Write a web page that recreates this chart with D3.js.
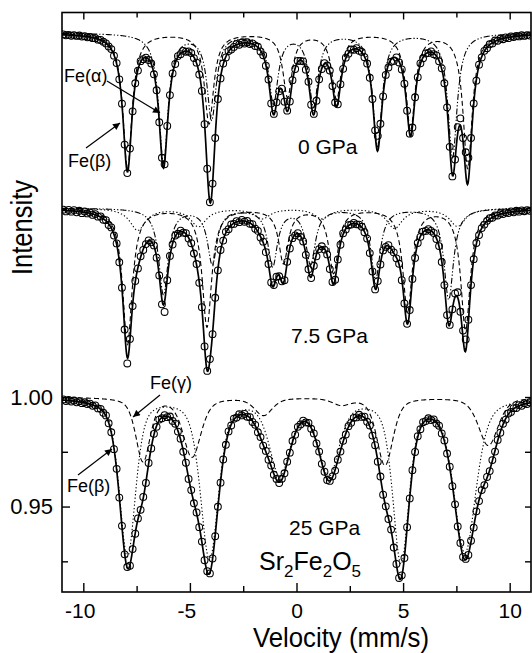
<!DOCTYPE html>
<html>
<head>
<meta charset="utf-8">
<script src="https://cdn.jsdelivr.net/npm/d3@7"></script>
<style>
  body { margin: 0; background: #fff; }
  text { font-family: "Liberation Sans", Arial, sans-serif; fill: #000; }
</style>
</head>
<body>
<div id="chart"></div>
<script>
// axis ticks
var velocityMajor = [-10, -5, 0, 5, 10];
var velocityMinor = [-7.5, -2.5, 2.5, 7.5];
var intensityMajor = [0.95, 1.00];
var intensityMinor = [0.925, 0.975];

// pressures and vertical shift of each spectrum
var pressures = ["0 GPa", "7.5 GPa", "25 GPa"];
var offsets = [0.1662, 0.0863, 0];

// channel velocities (mm/s)
var channels = d3.range(176).map(function (i) { return -10.9375 + 0.125 * i; });

// measured relative transmission, one value per channel
var obs0 = [0.9993, 0.9989, 0.9991, 0.9987, 0.9990, 0.9986, 0.9988, 0.9983, 0.9985, 0.9980, 0.9981, 0.9976, 0.9976, 0.9969, 0.9968, 0.9960,
 0.9952, 0.9938, 0.9926, 0.9896, 0.9862, 0.9788, 0.9677, 0.9490, 0.9360, 0.9472, 0.9642, 0.9770, 0.9828, 0.9871, 0.9880, 0.9887,
 0.9876, 0.9860, 0.9811, 0.9738, 0.9592, 0.9430, 0.9400, 0.9575, 0.9716, 0.9815, 0.9858, 0.9894, 0.9903, 0.9918, 0.9914, 0.9915,
 0.9908, 0.9885, 0.9864, 0.9810, 0.9735, 0.9583, 0.9380, 0.9227, 0.9312, 0.9520, 0.9698, 0.9792, 0.9860, 0.9888, 0.9917, 0.9924,
 0.9936, 0.9949, 0.9946, 0.9956, 0.9951, 0.9957, 0.9949, 0.9952, 0.9940, 0.9937, 0.9915, 0.9898, 0.9850, 0.9787, 0.9678, 0.9630,
 0.9683, 0.9733, 0.9745, 0.9686, 0.9645, 0.9687, 0.9784, 0.9835, 0.9872, 0.9872, 0.9870, 0.9832, 0.9777, 0.9672, 0.9630, 0.9690,
 0.9788, 0.9835, 0.9862, 0.9851, 0.9828, 0.9757, 0.9682, 0.9674, 0.9766, 0.9836, 0.9887, 0.9905, 0.9924, 0.9923, 0.9930, 0.9918,
 0.9913, 0.9889, 0.9860, 0.9795, 0.9698, 0.9555, 0.9530, 0.9585, 0.9710, 0.9808, 0.9842, 0.9868, 0.9872, 0.9888, 0.9865, 0.9833,
 0.9768, 0.9645, 0.9540, 0.9568, 0.9706, 0.9798, 0.9861, 0.9884, 0.9906, 0.9908, 0.9915, 0.9903, 0.9897, 0.9870, 0.9838, 0.9770,
 0.9660, 0.9480, 0.9345, 0.9422, 0.9570, 0.9610, 0.9520, 0.9455, 0.9430, 0.9520, 0.9678, 0.9782, 0.9855, 0.9888, 0.9918, 0.9930,
 0.9948, 0.9952, 0.9965, 0.9964, 0.9974, 0.9971, 0.9979, 0.9976, 0.9984, 0.9981, 0.9986, 0.9984, 0.9989, 0.9986, 0.9990, 0.9988];
var obs7 = [0.9992, 0.9984, 0.9991, 0.9983, 0.9990, 0.9980, 0.9987, 0.9976, 0.9984, 0.9975, 0.9979, 0.9968, 0.9972, 0.9960, 0.9961, 0.9946,
 0.9944, 0.9922, 0.9911, 0.9874, 0.9838, 0.9752, 0.9636, 0.9445, 0.9290, 0.9402, 0.9552, 0.9667, 0.9724, 0.9779, 0.9808, 0.9835,
 0.9852, 0.9843, 0.9829, 0.9773, 0.9692, 0.9560, 0.9525, 0.9670, 0.9781, 0.9833, 0.9874, 0.9882, 0.9896, 0.9887, 0.9885, 0.9860,
 0.9839, 0.9792, 0.9744, 0.9658, 0.9547, 0.9368, 0.9256, 0.9310, 0.9424, 0.9590, 0.9715, 0.9808, 0.9851, 0.9891, 0.9903, 0.9925,
 0.9927, 0.9940, 0.9935, 0.9945, 0.9937, 0.9941, 0.9928, 0.9926, 0.9905, 0.9895, 0.9865, 0.9846, 0.9798, 0.9744, 0.9660, 0.9648,
 0.9686, 0.9688, 0.9665, 0.9670, 0.9754, 0.9815, 0.9862, 0.9875, 0.9885, 0.9868, 0.9847, 0.9786, 0.9720, 0.9680, 0.9736, 0.9779,
 0.9812, 0.9825, 0.9810, 0.9788, 0.9721, 0.9662, 0.9672, 0.9765, 0.9832, 0.9884, 0.9902, 0.9921, 0.9924, 0.9932, 0.9925, 0.9924,
 0.9914, 0.9889, 0.9860, 0.9794, 0.9710, 0.9628, 0.9666, 0.9742, 0.9806, 0.9822, 0.9830, 0.9810, 0.9797, 0.9770, 0.9745, 0.9670,
 0.9564, 0.9471, 0.9534, 0.9676, 0.9772, 0.9840, 0.9868, 0.9892, 0.9895, 0.9903, 0.9895, 0.9886, 0.9858, 0.9826, 0.9753, 0.9648,
 0.9511, 0.9466, 0.9537, 0.9610, 0.9615, 0.9526, 0.9440, 0.9400, 0.9490, 0.9648, 0.9766, 0.9840, 0.9876, 0.9908, 0.9924, 0.9941,
 0.9953, 0.9955, 0.9966, 0.9965, 0.9975, 0.9972, 0.9980, 0.9977, 0.9984, 0.9980, 0.9987, 0.9983, 0.9989, 0.9985, 0.9990, 0.9987];
var obs25 = [0.9989, 0.9982, 0.9987, 0.9979, 0.9984, 0.9976, 0.9981, 0.9972, 0.9976, 0.9968, 0.9970, 0.9960, 0.9962, 0.9948,
 0.9946, 0.9928, 0.9916, 0.9880, 0.9839, 0.9762, 0.9672, 0.9541, 0.9412, 0.9282, 0.9224, 0.9230, 0.9306, 0.9376,
 0.9446, 0.9485, 0.9544, 0.9608, 0.9699, 0.9765, 0.9832, 0.9864, 0.9897, 0.9903, 0.9917, 0.9908, 0.9911, 0.9891,
 0.9878, 0.9842, 0.9810, 0.9750, 0.9700, 0.9626, 0.9575, 0.9515, 0.9473, 0.9406, 0.9340, 0.9255, 0.9205, 0.9195,
 0.9263, 0.9365, 0.9499, 0.9609, 0.9715, 0.9782, 0.9843, 0.9870, 0.9901, 0.9906, 0.9922, 0.9916, 0.9923, 0.9910,
 0.9908, 0.9886, 0.9873, 0.9839, 0.9817, 0.9778, 0.9754, 0.9714, 0.9687, 0.9645, 0.9626, 0.9607, 0.9627, 0.9652,
 0.9705, 0.9746, 0.9799, 0.9828, 0.9864, 0.9875, 0.9892, 0.9884, 0.9882, 0.9855, 0.9834, 0.9788, 0.9751, 0.9695,
 0.9659, 0.9621, 0.9617, 0.9638, 0.9664, 0.9714, 0.9751, 0.9800, 0.9829, 0.9867, 0.9882, 0.9905, 0.9907, 0.9919,
 0.9909, 0.9910, 0.9887, 0.9870, 0.9824, 0.9780, 0.9705, 0.9637, 0.9554, 0.9501, 0.9443, 0.9395, 0.9313, 0.9238,
 0.9174, 0.9186, 0.9265, 0.9406, 0.9537, 0.9666, 0.9749, 0.9821, 0.9853, 0.9885, 0.9890, 0.9903, 0.9895, 0.9898,
 0.9879, 0.9869, 0.9834, 0.9802, 0.9742, 0.9682, 0.9593, 0.9510, 0.9409, 0.9334, 0.9270, 0.9261, 0.9279, 0.9344,
 0.9404, 0.9478, 0.9525, 0.9575, 0.9598, 0.9635, 0.9662, 0.9712, 0.9751, 0.9804, 0.9837, 0.9878, 0.9897, 0.9925,
 0.9932, 0.9949, 0.9950, 0.9963, 0.9960, 0.9971, 0.9968, 0.9976];

// fitted sextets: line position (mm/s), depth, half width, lorentzian fraction
var beta0Pos = [-7.93, -4.10, -0.42, 1.88, 5.35, 8.03];
var beta0Depth = [0.0616, 0.0411, 0.0288, 0.0297, 0.0438, 0.0616];
var alpha0Pos = [-6.24, -3.98, -1.08, 0.80, 3.80, 7.32];
var alpha0Depth = [0.0589, 0.0388, 0.0315, 0.0329, 0.0511, 0.0566];
var width0 = [0.26, 0.26, 0.26, 0.26, 0.26, 0.26];

var beta7Pos = [-7.93, -4.20, -0.61, 1.74, 5.21, 7.93];
var beta7Depth = [0.0621, 0.0539, 0.0247, 0.0292, 0.0466, 0.0553];
var alpha7Pos = [-6.24, -3.95, -1.12, 0.66, 3.71, 7.14];
var alpha7Depth = [0.0393, 0.0251, 0.0260, 0.0251, 0.0320, 0.0416];
var gamma7Pos = [-7.45, -4.60, -1.60, 1.20, 4.60, 7.55];
var gamma7Depth = [0.0100, 0.0082, 0.0046, 0.0046, 0.0091, 0.0082];
var width7 = [0.27, 0.27, 0.27, 0.27, 0.27, 0.27];
var width7g = [0.45, 0.45, 0.45, 0.45, 0.45, 0.45];

var beta25Pos = [-7.93, -4.08, -0.78, 1.52, 4.90, 7.90];
var beta25Depth = [0.072, 0.073, 0.034, 0.034, 0.074, 0.070];
var beta25Width = [0.45, 0.50, 0.58, 0.58, 0.45, 0.62];
var gamma25Pos = [-7.20, -4.90, -1.55, 2.10, 4.15, 9.00];
var gamma25Depth = [0.029, 0.027, 0.008, 0.003, 0.031, 0.022];
var gamma25Width = [0.40, 0.50, 0.50, 0.50, 0.45, 0.55];

var dashStyles = { dash: "5,3", dashdot: "6,2,1.3,2,1.3,2", dot: "1.3,2.2" };

var spectra = [
    { offset: offsets[0], obs: obs0, sites: [
        { pos: beta0Pos, depth: beta0Depth, hw: width0, eta: 1, dash: dashStyles.dash },
        { pos: alpha0Pos, depth: alpha0Depth, hw: width0, eta: 1, dash: dashStyles.dashdot }] },
    { offset: offsets[1], obs: obs7, sites: [
        { pos: beta7Pos, depth: beta7Depth, hw: width7, eta: 1, dash: dashStyles.dash },
        { pos: alpha7Pos, depth: alpha7Depth, hw: width7, eta: 1, dash: dashStyles.dashdot },
        { pos: gamma7Pos, depth: gamma7Depth, hw: width7g, eta: 1, dash: dashStyles.dot }] },
    { offset: offsets[2], obs: obs25, sites: [
        { pos: beta25Pos, depth: beta25Depth, hw: beta25Width, eta: 0.5, dash: dashStyles.dot },
        { pos: gamma25Pos, depth: gamma25Depth, hw: gamma25Width, eta: 0.5, dash: dashStyles.dash }] }
];

// absorption of one site at velocity v (pseudo-Voigt lines)
function siteDip(site, v) {
    var s = 0;
    for (var i = 0; i < site.pos.length; i++) {
        var u = (v - site.pos[i]) / site.hw[i];
        s += site.depth[i] * (site.eta / (1 + u * u) + (1 - site.eta) * Math.exp(-Math.LN2 * u * u));
    }
    return s;
}
function fitDip(sp, v) {
    return d3.sum(sp.sites, function (site) { return siteDip(site, v); });
}

var width = 532, height = 653;
var margin = { left: 62, top: 12.5, right: 1, bottom: 61 };

var x = d3.scaleLinear().domain([-11, 11]).range([margin.left, width - margin.right]);
var y = d3.scaleLinear().domain([0.911, 1.1755]).range([height - margin.bottom, margin.top]);

var svg = d3.select("#chart").append("svg")
    .attr("width", width)
    .attr("height", height);

svg.append("clipPath").attr("id", "plotClip")
    .append("rect")
    .attr("x", x(-11)).attr("y", y(1.1755))
    .attr("width", x(11) - x(-11)).attr("height", y(0.911) - y(1.1755));

var plot = svg.append("g").attr("clip-path", "url(#plotClip)");

var fine = d3.range(-11, 11.0001, 0.02);

spectra.forEach(function (sp) {
    // sub-spectra
    sp.sites.forEach(function (site) {
        plot.append("path")
            .datum(fine)
            .attr("fill", "none")
            .attr("stroke", "#000")
            .attr("stroke-width", 1.1)
            .attr("stroke-dasharray", site.dash)
            .attr("d", d3.line()
                .x(function (v) { return x(v); })
                .y(function (v) { return y(1 + sp.offset - siteDip(site, v)); }));
    });
    // measured points
    plot.selectAll(null)
        .data(sp.obs)
        .enter().append("circle")
        .attr("cx", function (d, i) { return x(channels[i]); })
        .attr("cy", function (d) { return y(d + sp.offset); })
        .attr("r", 3.4)
        .attr("fill", "none")
        .attr("stroke", "#000")
        .attr("stroke-width", 1.05);
    // total fit
    plot.append("path")
        .datum(fine)
        .attr("fill", "none")
        .attr("stroke", "#000")
        .attr("stroke-width", 1.7)
        .attr("d", d3.line()
            .x(function (v) { return x(v); })
            .y(function (v) { return y(1 + sp.offset - fitDip(sp, v)); }));
});

// frame
svg.append("rect")
    .attr("x", x(-11)).attr("y", y(1.1755))
    .attr("width", x(11) - x(-11)).attr("height", y(0.911) - y(1.1755))
    .attr("fill", "none").attr("stroke", "#000").attr("stroke-width", 1.6);

// axes with inward ticks
function styleAxis(g) {
    g.select(".domain").remove();
    g.selectAll(".tick line").attr("stroke", "#000").attr("stroke-width", 1.4);
}

svg.append("g")
    .attr("transform", "translate(0," + y(0.911) + ")")
    .call(d3.axisBottom(x).tickValues(velocityMajor).tickSize(-9).tickPadding(11)
        .tickFormat(function (d) { return String(d); }))
    .call(styleAxis)
    .call(function (g) {
        g.selectAll("text")
            .style("font-size", "21px")
            .attr("fill", "#000")
            .attr("dx", function (d) { return d < 0 ? "-0.17em" : 0; });
    });
svg.append("g")
    .attr("transform", "translate(0," + y(0.911) + ")")
    .call(d3.axisBottom(x).tickValues(velocityMinor).tickSize(-6).tickFormat(""))
    .call(styleAxis);
svg.append("g")
    .attr("transform", "translate(0," + y(1.1755) + ")")
    .call(d3.axisTop(x).tickValues(velocityMajor).tickSize(-7).tickFormat(""))
    .call(styleAxis);
svg.append("g")
    .attr("transform", "translate(0," + y(1.1755) + ")")
    .call(d3.axisTop(x).tickValues(velocityMinor).tickSize(-5).tickFormat(""))
    .call(styleAxis);

svg.append("g")
    .attr("transform", "translate(" + x(-11) + ",0)")
    .call(d3.axisLeft(y).tickValues(intensityMajor).tickSize(-8).tickPadding(9).tickFormat(d3.format(".2f")))
    .call(styleAxis)
    .call(function (g) {
        g.selectAll("text").style("font-size", "22px").attr("fill", "#000");
    });
svg.append("g")
    .attr("transform", "translate(" + x(-11) + ",0)")
    .call(d3.axisLeft(y).tickValues(intensityMinor).tickSize(-6).tickFormat(""))
    .call(styleAxis);
svg.append("g")
    .attr("transform", "translate(" + x(11) + ",0)")
    .call(d3.axisRight(y).tickValues(intensityMajor.concat(intensityMinor)).tickSize(-6).tickFormat(""))
    .call(styleAxis);

// axis titles
svg.append("text")
    .attr("x", 253).attr("y", 647)
    .attr("textLength", 176).attr("lengthAdjust", "spacingAndGlyphs")
    .style("font-size", "27px")
    .text("Velocity (mm/s)");
svg.append("text")
    .attr("transform", "translate(32,275) rotate(-90)")
    .attr("textLength", 95).attr("lengthAdjust", "spacingAndGlyphs")
    .style("font-size", "30px")
    .text("Intensity");

// pressure labels
var pressureSpots = [[298, 154], [291, 343], [289, 535]];
pressures.forEach(function (p, i) {
    svg.append("text")
        .attr("x", pressureSpots[i][0]).attr("y", pressureSpots[i][1])
        .style("font-size", "21px")
        .text(p);
});

// compound name
var formula = svg.append("text").attr("x", 259).attr("y", 570).style("font-size", "25px");
[["Sr", 0], ["2", 1], ["Fe", 0], ["2", 1], ["O", 0], ["5", 1]].forEach(function (part, i, all) {
    var prev = i > 0 ? all[i - 1][1] : 0;
    formula.append("tspan")
        .attr("dy", part[1] === prev ? 0 : (part[1] ? 7 : -7))
        .style("font-size", part[1] ? "17px" : "25px")
        .text(part[0]);
});

// site labels with arrows
svg.append("defs").append("marker")
    .attr("id", "head")
    .attr("viewBox", "0 0 10 10")
    .attr("refX", 10).attr("refY", 5)
    .attr("markerWidth", 9).attr("markerHeight", 7)
    .attr("markerUnits", "userSpaceOnUse")
    .attr("orient", "auto")
    .append("path").attr("d", "M0,0L10,5L0,10Z").attr("fill", "#000");

var siteLabels = [
    { text: "Fe(\u03b1)", at: [64, 82], from: [107, 81], to: [160, 113] },
    { text: "Fe(\u03b2)", at: [68, 167], from: [86, 148], to: [120, 123] },
    { text: "Fe(\u03b3)", at: [150, 389], from: [160, 395], to: [133, 417] },
    { text: "Fe(\u03b2)", at: [67, 492], from: [78, 475], to: [112, 449] }
];
siteLabels.forEach(function (d) {
    svg.append("text").attr("x", d.at[0]).attr("y", d.at[1]).style("font-size", "18px").text(d.text);
    svg.append("line")
        .attr("x1", d.from[0]).attr("y1", d.from[1])
        .attr("x2", d.to[0]).attr("y2", d.to[1])
        .attr("stroke", "#000").attr("stroke-width", 1.2)
        .attr("marker-end", "url(#head)");
});
</script>
</body>
</html>
